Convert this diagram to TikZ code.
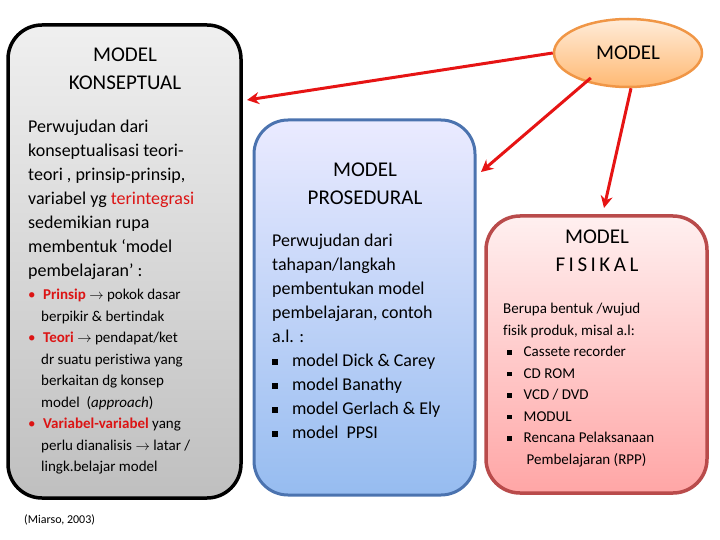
\documentclass[tikz,border=0pt]{standalone}
\usepackage{fontspec}
\setmainfont[Ligatures={NoCommon}]{Carlito}
\usetikzlibrary{shapes.geometric,arrows.meta}
\definecolor{arr}{RGB}{230,20,20}
\definecolor{tred}{RGB}{220,20,20}
\definecolor{bbord}{RGB}{75,115,175}
\definecolor{rbord}{RGB}{185,75,75}
\definecolor{obord}{RGB}{240,150,70}
\definecolor{bbot}{RGB}{150,188,240}
\newcommand{\sqb}{\raisebox{0.12em}{\rule{0.3em}{0.3em}}\hspace{0.8em}}
\newcommand{\rar}{\ensuremath{\rightarrow}}
\begin{document}
\begin{tikzpicture}[x=1pt,y=-1pt,
  box/.style={rounded corners=34pt,line width=3pt},
  ttl/.style={font=\fontsize{21}{28}\selectfont,align=center},
  body/.style={anchor=north west,align=left,inner sep=0pt},
  arrw/.style={draw=arr,line width=3pt,-{Stealth[length=12pt,width=12pt]}}]
\useasboundingbox (0,0) rectangle (720,540);
\path[box,draw=black,line width=3.5pt,top color=gray!12,bottom color=gray!50] (8,25) rectangle (241,498);
\path[box,draw=bbord,top color=blue!8,bottom color=bbot] (254,120) rectangle (475,495);
\path[box,draw=rbord,line width=3.5pt,top color=red!6,bottom color=red!35] (486,216) rectangle (707,493);
\node[ellipse,draw=obord,line width=2.5pt,top color=orange!15,bottom color=orange!55,minimum width=148pt,minimum height=68pt,font=\fontsize{21}{24}\selectfont] (m) at (628,53) {MODEL};
\node[ttl] (k) at (125,69) {MODEL\\KONSEPTUAL};
\node[ttl] (p) at (365,184) {MODEL\\PROSEDURAL};
\node[ttl] (f) at (597,251) {MODEL\\F\,I\,S\,I\,K\,A\,L};
\coordinate (ka) at (247,100);
\coordinate (pa) at (481,172);
\coordinate (fa) at (604,208);
\draw[arrw] (m.west) -- (ka);
\draw[arrw] (m.south west)++(16,0) -- (pa);
\draw[arrw] (m.south)++(3,0) -- (fa);
\node[body,font=\fontsize{18}{24}\selectfont] (kb) at (28,120) {Perwujudan dari\\konseptualisasi teori-\\teori , prinsip-prinsip,\\variabel yg \textcolor{tred}{terintegrasi}\\sedemikian rupa\\membentuk ‘model\\pembelajaran’ :};
\node[body,font=\fontsize{15}{21.5}\selectfont] (kl) at (28,289) {\textcolor{tred}{•}\hspace{0.5em}\textcolor{tred}{\textbf{Prinsip}} \rar{} pokok dasar\\\hspace*{13pt}berpikir \& bertindak\\\textcolor{tred}{•}\hspace{0.5em}\textcolor{tred}{\textbf{Teori}} \rar{} pendapat/ket\\\hspace*{13pt}dr suatu peristiwa yang\\\hspace*{13pt}berkaitan dg konsep\\\hspace*{13pt}model\ \ (\textit{approach})\\\textcolor{tred}{•}\hspace{0.5em}\textcolor{tred}{\textbf{Variabel-variabel}} yang\\\hspace*{13pt}perlu dianalisis \rar{} latar /\\\hspace*{13pt}lingk.belajar model};
\node[body,font=\fontsize{12}{14}\selectfont] (src) at (24,515) {(Miarso, 2003)};
\node[body,font=\fontsize{18}{24}\selectfont] (pb) at (272,234) {Perwujudan dari\\tahapan/langkah\\pembentukan model\\pembelajaran, contoh\\a.l. :\\\sqb model Dick \& Carey\\\sqb model Banathy\\\sqb model Gerlach \& Ely\\\sqb model\ \ PPSI};
\node[body,font=\fontsize{15}{21.5}\selectfont] (fb) at (503,303) {Berupa bentuk /wujud\\fisik produk, misal a.l:\\\hspace*{4pt}\sqb Cassete recorder\\\hspace*{4pt}\sqb CD ROM\\\hspace*{4pt}\sqb VCD / DVD\\\hspace*{4pt}\sqb MODUL\\\hspace*{4pt}\sqb Rencana Pelaksanaan\\\hspace*{19pt}\hspace{0.3em}Pembelajaran (RPP)};
\end{tikzpicture}
\end{document}
